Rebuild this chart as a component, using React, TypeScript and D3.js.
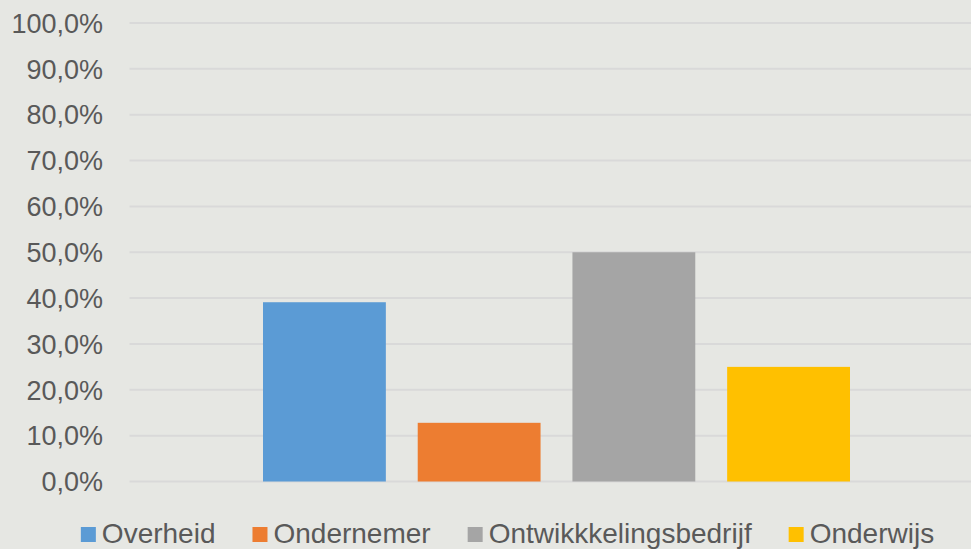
import { useEffect, useRef } from 'react'
import * as d3 from 'd3'

const series = ['Overheid', 'Ondernemer', 'Ontwikkkelingsbedrijf', 'Onderwijs']
const values = [39.1, 12.8, 50.0, 25.0]
const colors = ['#5b9bd5', '#ed7d31', '#a5a5a5', '#ffc000']
const yTicks = [0, 10, 20, 30, 40, 50, 60, 70, 80, 90, 100]

const W = 971
const H = 549

export default function App() {
  const ref = useRef<SVGSVGElement | null>(null)

  useEffect(() => {
    document.body.style.margin = '0'
    if (!ref.current) return
    const svg = d3.select(ref.current)
    svg.selectAll('*').remove()

    const plot = { left: 129.5, right: 983.5, top: 23, bottom: 481.5 }
    const font = '"Liberation Sans", Arial, sans-serif'

    svg.append('rect').attr('width', W).attr('height', H).attr('fill', '#e6e7e3')

    const y = d3.scaleLinear().domain([0, 100]).range([plot.bottom, plot.top])

    // category band, then series inside it
    const cat = d3.scaleBand().domain(['all']).range([plot.left, plot.right]).paddingInner(0).paddingOuter(0)
    const groupW = 587
    const cx = (cat('all') ?? 0) + cat.bandwidth() / 2
    const x = d3
      .scaleBand()
      .domain(series)
      .range([cx - groupW / 2, cx + groupW / 2])
      .paddingInner(0.206)
      .paddingOuter(0)

    svg
      .append('g')
      .selectAll('line')
      .data(yTicks)
      .enter()
      .append('line')
      .attr('x1', plot.left)
      .attr('x2', W)
      .attr('y1', (d) => y(d))
      .attr('y2', (d) => y(d))
      .attr('stroke', '#d9d9d9')
      .attr('stroke-width', 2)

    svg
      .append('g')
      .selectAll('text')
      .data(yTicks)
      .enter()
      .append('text')
      .attr('x', 103)
      .attr('y', (d) => y(d))
      .attr('dy', '0.36em')
      .attr('text-anchor', 'end')
      .attr('font-family', font)
      .attr('font-size', 27)
      .attr('fill', '#595959')
      .text((d) => `${d.toFixed(1).replace('.', ',')}%`)

    svg
      .append('g')
      .selectAll('rect')
      .data(values)
      .enter()
      .append('rect')
      .attr('x', (_, i) => x(series[i]) ?? 0)
      .attr('y', (d) => y(d))
      .attr('width', x.bandwidth())
      .attr('height', (d) => plot.bottom - y(d))
      .attr('fill', (_, i) => colors[i])

    // legend
    const lg = svg.append('g')
    const items = lg
      .selectAll('g')
      .data(series)
      .enter()
      .append('g')
    items
      .append('rect')
      .attr('width', 15)
      .attr('height', 15)
      .attr('y', 527)
      .attr('fill', (_, i) => colors[i])
    items
      .append('text')
      .attr('x', 21)
      .attr('y', 543)
      .attr('font-family', font)
      .attr('font-size', 28)
      .attr('fill', '#595959')
      .text((d) => d)

    const widths: number[] = []
    items.each(function () {
      const t = d3.select(this).select('text').node() as SVGTextElement
      widths.push(21 + t.getComputedTextLength())
    })
    const gap = 37
    const total = d3.sum(widths) + gap * (widths.length - 1)
    let pos = 507.5 - total / 2
    items.attr('transform', (_, i) => {
      const tx = pos
      pos += widths[i] + gap
      return `translate(${tx},0)`
    })
  }, [])

  return <svg ref={ref} width={W} height={H} style={{ display: 'block' }} />
}
